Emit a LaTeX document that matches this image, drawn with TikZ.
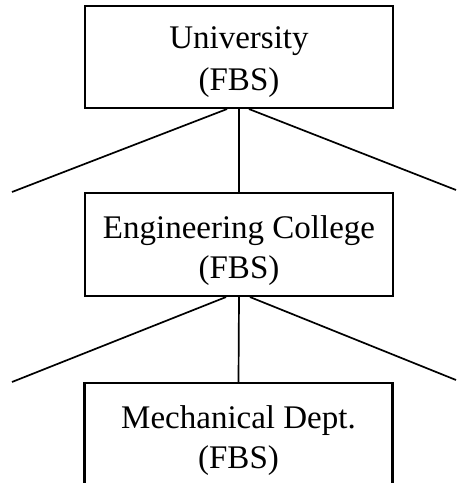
\documentclass[tikz,border=0pt]{standalone}
\usepackage{fontspec}
\setmainfont{Liberation Serif}
\begin{document}
\begin{tikzpicture}[x=1pt,y=1pt,
  unitbox/.style={draw, line width=2.1pt, minimum width=308pt, inner sep=0pt},
  lineone/.style={anchor=base, font=\fontsize{33}{40}\selectfont, inner sep=0pt},
  link/.style={line width=1.7pt}]
\useasboundingbox (0,0) rectangle (457,483);
\clip (0,0) rectangle (457,483);

% organisational units
\node[unitbox, minimum height=102pt] (uni) at (239,426) {};
\node[unitbox, minimum height=103pt] (eng) at (239,238.5) {};
\node[unitbox, minimum height=130pt] (mech) at (238.5,35) {};

% labels
\node[lineone] (uni1) at ([yshift=-44pt]uni.north) {University};
\node[lineone] (uni2) at ([yshift=-86pt]uni.north) {(FBS)};
\node[lineone] (eng1) at ([yshift=-47pt]eng.north) {Engineering College};
\node[lineone] (eng2) at ([yshift=-87pt]eng.north) {(FBS)};
\node[lineone] (mech1) at ([yshift=-47pt]mech.north) {Mechanical Dept.};
\node[lineone] (mech2) at ([yshift=-87pt]mech.north) {(FBS)};

% free ends of the side branches
\coordinate (ul) at (12,291);
\coordinate (ur) at (456,293);
\coordinate (el) at (12,101);
\coordinate (er) at (456,103);

% branches
\draw[link] ([xshift=-12pt]uni.south) -- (ul);
\draw[link] (uni.south) -- (eng.north);
\draw[link] ([xshift=10pt]uni.south) -- (ur);
\draw[link] ([xshift=-13pt]eng.south) -- (el);
\draw[link] (eng.south) -- (mech.north);
\draw[link] ([xshift=11pt]eng.south) -- (er);
\end{tikzpicture}
\end{document}
